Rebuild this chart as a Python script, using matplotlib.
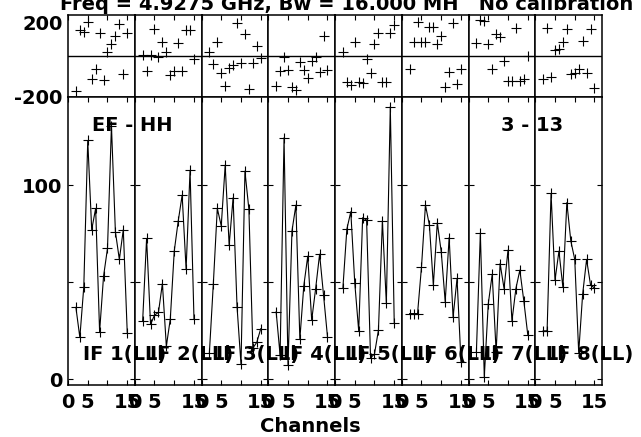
import numpy as np
import matplotlib.pyplot as plt

plt.rcParams['font.family'] = ['DejaVu Sans']
plt.rcParams['font.weight'] = 'bold'

channels = list(range(2, 16))
if_labels = ['IF 1(LL)', 'IF 2(LL)', 'IF 3(LL)', 'IF 4(LL)',
             'IF 5(LL)', 'IF 6(LL)', 'IF 7(LL)', 'IF 8(LL)']

# amplitude per IF (channels 2..15)
amp_if1 = [37, 21.5, 47.6, 123, 77, 88, 24.4, 53, 67.4, 130.6, 76, 61.7, 77, 24]
amp_if2 = [30, 72.5, 28.2, 33, 34.4, 49.3, 17, 31, 66, 81.4, 94.8, 56.7, 107.6, 30.8]
amp_if3 = [13.7, 49.3, 88, 79, 110.3, 69, 93.5, 37.3, 7.6, 107.2, 87.5, 16, 19, 26]
amp_if4 = [34.7, 12.4, 124.4, 7.2, 76.3, 89.7, 20.6, 48.1, 63.4, 30.4, 46.7, 64.4, 43.3, 21.8]
amp_if5 = [47, 77.3, 86.3, 49.7, 24.9, 83.2, 82, 11, 13, 25.3, 81.6, 39, 140.4, 28.7]
amp_if6 = [33.8, 33.8, 33.8, 57.9, 89.7, 79.4, 48.5, 80.6, 65.6, 39.9, 73, 32, 51.9, 9]
amp_if7 = [14, 75.4, 1.2, 38.7, 54, 14, 59.6, 46.7, 66.5, 30, 46.7, 56.2, 40.4, 23]
amp_if8 = [24.9, 24.9, 95.7, 51, 66, 47.3, 91, 71.3, 61.7, 13.7, 43.8, 61.7, 48.5, 47]

# phase per IF (degrees)
ph_if1 = [-170, 126, 115, 164, -112, -65, 113, -117, 21, 57, 97, 154, -89, 113]
ph_if2 = [5, -73, 5, 131, -3, 70, 21, -92, -73, 62, -73, 126, 126, -16]
ph_if3 = [21, -40, 70, -84, -146, -60, -44, 162, -36, 107, -160, -32, 49, -11]
ph_if4 = [-146, -71, -3, -68, -149, -168, -28, -68, -109, -23, -3, -76, 97, -68]
ph_if5 = [21, -125, -141, 66, -128, -130, -16, -84, 57, 110, -125, -125, 113, 151]
ph_if6 = [-65, 70, 167, 70, 70, 143, 143, 57, 97, -150, -76, 159, -136, -65]
ph_if7 = [62, 175, 172, 58, -65, 107, 94, -23, -120, -120, 139, -120, -113, 0]
ph_if8 = [-113, 139, -104, 29, 32, 70, 134, -88, -84, -65, 74, -81, 134, -157]

amps = [amp_if1, amp_if2, amp_if3, amp_if4, amp_if5, amp_if6, amp_if7, amp_if8]
phases = [ph_if1, ph_if2, ph_if3, ph_if4, ph_if5, ph_if6, ph_if7, ph_if8]

W, H = 641, 437
fig = plt.figure(figsize=(W / 100, H / 100), dpi=100)

x0, x1 = 68, 602
pw = (x1 - x0) / 8
ph_top, ph_bot = 15, 97
am_top, am_bot = 97, 385

fs = 14
for i in range(8):
    left = (x0 + i * pw) / W
    axp = fig.add_axes([left, 1 - ph_bot / H, pw / W, (ph_bot - ph_top) / H])
    axa = fig.add_axes([left, 1 - am_bot / H, pw / W, (am_bot - am_top) / H])

    axp.plot(channels, phases[i], '+', color='black', ms=7.5, mew=0.8)
    axp.axhline(0, color='black', lw=1)
    axp.set_xlim(0, 16.9)
    axp.set_ylim(-200, 200)
    axp.set_xticks([0, 5, 10, 15])
    axp.tick_params(axis='x', direction='in', top=True, bottom=False,
                    labelbottom=False, length=3.6, width=0.8)
    axp.set_yticks([-200, 200])
    axp.tick_params(axis='y', direction='in', length=0, pad=4, labelsize=fs)
    if i == 0:
        axp.set_yticklabels(['-200', '200'])
        axp.get_yticklabels()[1].set_va('top')
    else:
        axp.set_yticklabels([])

    axa.plot(channels, amps[i], '-', color='black', lw=0.8)
    axa.plot(channels, amps[i], '+', color='black', ms=7.5, mew=0.8)
    axa.set_xlim(0, 16.9)
    axa.set_ylim(-3, 145.4)
    axa.set_xticks([0, 5, 10, 15])
    axa.set_xticklabels(['0', '5', '', '15'])
    axa.tick_params(axis='x', direction='in', top=True, bottom=True,
                    length=3.6, width=0.8, pad=6, labelsize=fs)
    axa.set_yticks([0, 50, 100])
    axa.tick_params(axis='y', direction='in', left=True, right=True,
                    length=3.6, width=0.8, pad=4, labelsize=fs)
    if i == 0:
        axa.set_yticklabels(['0', '', '100'])
    else:
        axa.set_yticklabels([])

    for ax in (axp, axa):
        for s in ax.spines.values():
            s.set_linewidth(1.1)

    # IF label drawn on the figure so neighbouring panels do not hide it
    fig.text((x0 + i * pw + 15) / W, 1 - 360 / H, if_labels[i],
             fontsize=fs, fontweight='bold', ha='left', va='baseline',
             zorder=5)

fig.text(92 / W, 1 - 131 / H, 'EF - HH', fontsize=fs, fontweight='bold',
         ha='left', va='baseline')
fig.text(563 / W, 1 - 131 / H, '3 - 13', fontsize=fs, fontweight='bold',
         ha='right', va='baseline')
fig.text(60 / W, 1 - 10 / H,
         'Freq = 4.9275 GHz, Bw = 16.000 MH   No calibration',
         fontsize=fs, fontweight='bold', ha='left', va='baseline')
fig.text(310 / W, 1 - 432 / H, 'Channels', fontsize=fs, fontweight='bold',
         ha='center', va='baseline')

fig.savefig('out.png', dpi=100)
